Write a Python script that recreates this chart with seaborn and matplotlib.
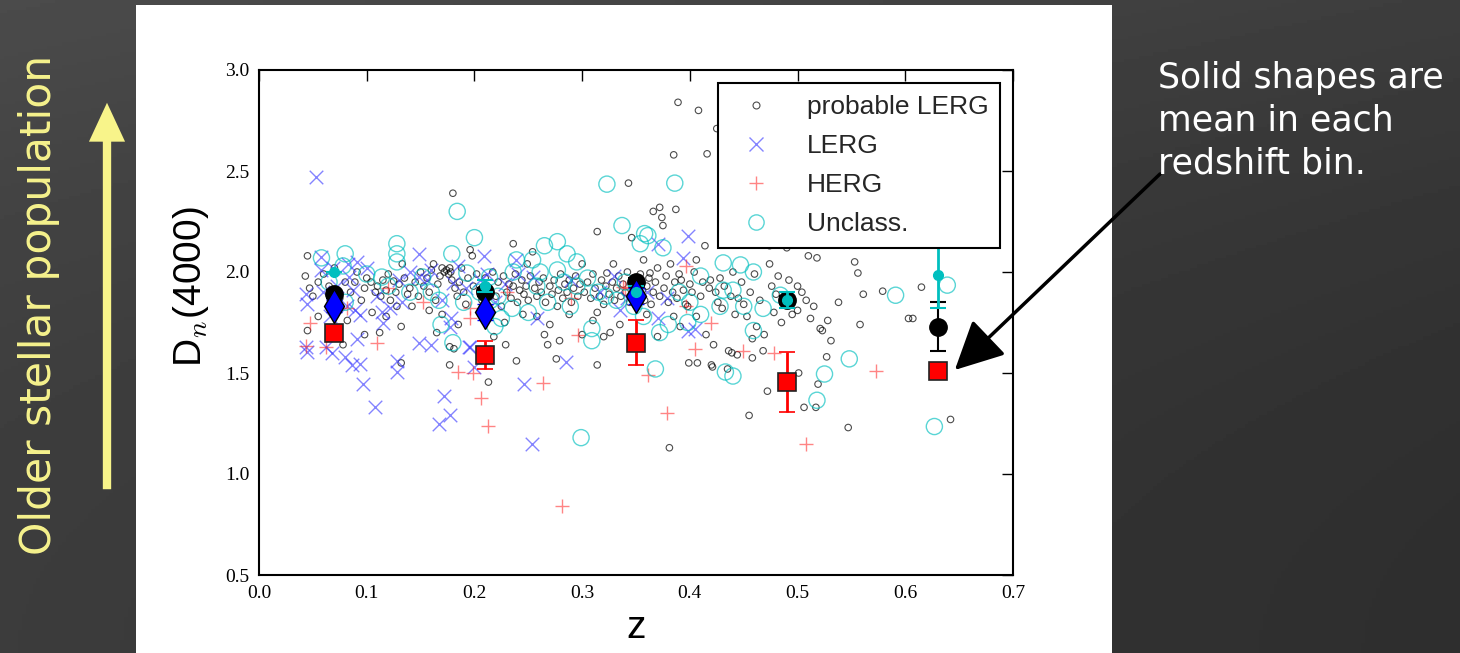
import numpy as np
import pandas as pd
import matplotlib
matplotlib.use("Agg")
import matplotlib.pyplot as plt
from matplotlib.lines import Line2D
import seaborn as sns

# ---------------- data ----------------
plerg_pts = [
    (0.045,2.08),(0.043,1.98),(0.047,1.92),(0.05,1.88),(0.055,1.95),(0.045,1.71),(0.06,1.99),(0.065,1.93),
    (0.07,2.02),(0.075,1.87),(0.08,1.95),(0.082,1.76),(0.085,1.90),(0.089,1.95),(0.091,2.00),(0.095,1.86),
    (0.098,1.69),(0.098,1.92),(0.10,1.97),(0.078,1.64),(0.055,1.78),
    (0.104,1.95),(0.108,1.90),(0.11,1.93),(0.113,1.88),(0.115,1.96),(0.118,1.91),(0.12,1.99),(0.122,1.86),
    (0.125,1.955),(0.127,1.90),(0.13,1.94),(0.132,1.73),(0.132,1.55),(0.133,2.04),(0.135,1.97),(0.138,1.89),
    (0.14,1.92),(0.142,1.83),(0.145,1.95),(0.148,1.88),(0.15,2.0),(0.105,1.80),(0.118,1.78),(0.128,1.83),(0.112,1.70),
    (0.153,1.93),(0.156,1.97),(0.158,1.90),(0.16,2.01),(0.162,2.04),(0.164,1.86),(0.166,1.94),(0.168,1.98),
    (0.17,2.02),(0.172,2.00),(0.174,2.01),(0.176,1.99),(0.177,2.02),(0.178,2.00),(0.179,1.96),(0.18,2.39),
    (0.177,1.63),(0.181,1.62),(0.177,1.54),(0.182,1.92),(0.184,1.88),(0.186,1.95),(0.188,2.02),(0.19,1.90),
    (0.192,1.84),(0.194,1.97),(0.196,2.11),(0.198,2.08),(0.199,1.93),(0.17,1.79),(0.185,1.74),(0.158,1.81),(0.165,1.70),
    (0.202,1.99),(0.205,1.91),(0.207,1.86),(0.21,1.97),(0.213,1.455),(0.214,1.92),(0.217,2.00),(0.218,1.68),
    (0.22,1.88),(0.222,1.95),(0.225,1.83),(0.227,1.98),(0.229,1.64),(0.23,1.90),(0.232,1.94),(0.234,1.87),
    (0.236,2.14),(0.236,1.93),(0.238,1.99),(0.239,1.56),(0.24,1.85),(0.242,1.91),(0.244,1.96),(0.246,1.89),
    (0.248,1.93),(0.249,2.04),(0.25,1.86),(0.212,1.78),(0.228,1.75),(0.245,1.79),
    (0.252,1.98),(0.254,2.10),(0.256,1.92),(0.258,1.88),(0.26,1.95),(0.262,1.90),(0.264,1.97),(0.265,1.69),
    (0.266,1.85),(0.268,1.64),(0.27,1.93),(0.272,1.89),(0.274,1.96),(0.276,1.57),(0.277,1.83),(0.278,1.91),
    (0.279,1.66),(0.28,1.99),(0.282,1.87),(0.284,1.94),(0.286,1.90),(0.288,1.96),(0.29,1.85),(0.292,1.92),
    (0.294,1.98),(0.296,1.88),(0.298,1.94),(0.30,1.69),(0.30,2.04),(0.258,1.78),(0.27,1.74),(0.288,1.79),
    (0.302,1.90),(0.305,1.95),(0.308,1.87),(0.31,1.99),(0.312,1.92),(0.314,2.20),(0.314,1.54),(0.314,1.80),
    (0.316,1.88),(0.318,1.96),(0.32,1.84),(0.322,1.93),(0.323,1.995),(0.325,1.89),(0.326,1.70),(0.328,1.95),
    (0.329,2.04),(0.33,1.86),(0.332,1.92),(0.334,1.98),(0.336,1.88),(0.338,1.94),(0.34,1.90),(0.342,2.00),
    (0.343,2.44),(0.344,1.85),(0.346,2.17),(0.346,1.93),(0.348,1.97),(0.35,1.89),(0.31,1.76),(0.335,1.74),(0.32,1.68),
    (0.352,1.95),(0.354,1.99),(0.356,1.91),(0.357,2.06),(0.358,1.86),(0.36,1.93),(0.362,1.97),(0.363,1.995),
    (0.364,1.84),(0.366,2.30),(0.366,1.90),(0.368,1.95),(0.37,1.68),(0.37,2.02),(0.372,2.32),(0.372,1.88),
    (0.374,2.27),(0.375,2.23),(0.376,1.92),(0.378,1.98),(0.38,1.85),(0.381,1.13),(0.382,2.04),(0.384,1.90),
    (0.385,2.58),(0.386,1.95),(0.387,2.31),(0.388,1.87),(0.389,2.84),(0.39,1.99),(0.391,1.73),(0.392,1.96),
    (0.394,1.91),(0.396,1.84),(0.398,1.83),(0.399,1.55),(0.40,1.94),(0.36,1.79),(0.385,1.78),
    (0.402,1.90),(0.404,2.00),(0.406,2.06),(0.406,1.78),(0.407,1.55),(0.408,2.80),(0.41,1.88),(0.412,1.95),
    (0.414,2.13),(0.415,1.69),(0.416,2.585),(0.418,1.92),(0.419,1.96),(0.42,1.54),(0.421,1.53),
    (0.422,1.64),(0.424,1.90),(0.425,2.71),(0.426,1.85),(0.428,1.97),(0.43,1.82),(0.432,1.93),(0.435,1.52),
    (0.436,1.61),(0.438,1.88),(0.439,1.60),(0.44,2.00),(0.442,1.79),(0.444,1.59),(0.445,1.87),(0.448,1.95),
    (0.45,1.84),(0.453,1.78),(0.455,1.29),(0.456,1.90),(0.458,1.67),(0.458,1.575),(0.46,1.99),(0.462,1.73),(0.465,1.86),
    (0.468,1.61),(0.469,1.69),(0.472,1.41),(0.474,2.13),(0.474,2.04),(0.476,1.93),(0.478,1.80),(0.48,1.89),
    (0.482,1.98),(0.485,1.75),(0.49,2.12),(0.492,1.96),(0.495,1.79),(0.50,1.81),(0.501,1.50),(0.504,1.90),
    (0.506,1.33),(0.508,1.86),(0.512,1.77),(0.515,1.83),(0.517,1.33),(0.518,2.07),(0.519,1.445),(0.521,1.72),
    (0.523,1.71),(0.527,1.58),(0.528,1.76),(0.531,1.66),(0.538,1.85),(0.547,1.23),(0.553,2.05),(0.556,1.995),
    (0.558,1.74),(0.561,1.89),(0.579,1.905),(0.603,1.77),(0.607,1.77),(0.615,1.925),(0.642,1.27),(0.50,1.93),(0.51,2.08),
]
lerg_pts = [
    (0.053,2.47),(0.058,2.075),(0.044,1.89),(0.045,1.84),(0.058,2.01),(0.069,2.02),(0.083,2.04),(0.091,2.05),
    (0.084,1.975),(0.072,1.93),(0.059,1.90),(0.087,1.91),(0.094,1.785),(0.066,1.78),(0.082,1.83),(0.089,1.81),
    (0.114,1.80),(0.115,1.75),(0.122,1.82),(0.133,1.85),(0.14,2.0),(0.149,2.09),(0.149,1.975),(0.156,1.96),
    (0.16,2.01),(0.177,1.73),(0.178,1.77),(0.18,1.945),(0.192,1.92),(0.196,1.63),(0.205,1.96),(0.209,2.08),
    (0.212,1.99),(0.219,1.85),(0.228,1.94),(0.239,2.06),(0.24,1.99),(0.254,1.975),(0.258,1.77),(0.29,1.96),
    (0.317,1.90),(0.33,1.98),(0.342,1.87),(0.335,1.81),(0.044,1.63),(0.045,1.605),(0.062,1.63),(0.068,1.60),
    (0.08,1.58),(0.086,1.54),(0.094,1.545),(0.097,1.445),(0.108,1.33),(0.128,1.56),(0.128,1.505),(0.149,1.65),
    (0.16,1.64),(0.172,1.385),(0.177,1.29),(0.167,1.25),(0.195,1.63),(0.20,1.53),(0.246,1.445),(0.253,1.15),
    (0.285,1.555),(0.091,1.67),(0.398,2.18),(0.37,2.14),(0.394,2.07),(0.379,1.87),(0.37,1.77),(0.398,1.71),
    (0.405,1.72),(0.36,1.90),(0.11,1.88),(0.13,1.96),(0.10,2.02),(0.17,1.86),(0.185,2.03),
]
herg_pts = [
    (0.044,1.635),(0.062,1.63),(0.11,1.65),(0.185,1.505),(0.199,1.50),(0.206,1.375),(0.213,1.24),(0.264,1.45),
    (0.281,0.84),(0.296,1.69),(0.361,1.49),(0.379,1.30),(0.405,1.62),(0.449,1.61),(0.478,1.60),(0.508,1.15),
    (0.573,1.51),(0.047,1.75),(0.082,1.82),(0.152,1.85),(0.196,1.82),(0.196,1.77),(0.338,1.925),(0.396,2.03),
    (0.396,1.83),(0.34,1.92),(0.42,1.75),(0.23,1.90),(0.12,1.92),(0.29,1.87),
]
unclass_pts = [
    (0.058,2.07),(0.08,2.09),(0.078,2.03),(0.08,1.85),(0.065,1.95),(0.10,1.99),(0.114,1.975),(0.128,2.14),
    (0.128,2.09),(0.128,2.05),(0.12,1.93),(0.14,1.90),(0.152,1.975),(0.16,1.90),(0.167,1.86),(0.169,1.74),
    (0.179,2.09),(0.184,2.30),(0.18,1.65),(0.193,1.995),(0.20,2.17),(0.205,1.90),(0.214,1.975),(0.225,1.77),
    (0.219,1.73),(0.222,1.88),(0.236,2.0),(0.239,2.06),(0.254,2.06),(0.265,2.13),(0.277,2.15),(0.286,2.09),
    (0.261,2.0),(0.258,1.93),(0.25,1.80),(0.268,1.85),(0.277,2.01),(0.283,1.95),(0.289,1.83),(0.295,1.93),
    (0.299,1.18),(0.305,1.97),(0.309,1.72),(0.309,1.66),(0.315,1.90),(0.323,2.435),(0.322,1.88),(0.332,1.86),
    (0.337,2.23),(0.34,1.95),(0.354,2.14),(0.358,2.19),(0.361,2.18),(0.375,2.12),(0.357,1.78),(0.368,1.52),
    (0.372,1.70),(0.38,1.74),(0.386,2.44),(0.39,1.90),(0.40,1.85),(0.398,1.75),(0.41,1.98),(0.428,1.83),
    (0.431,2.045),(0.431,1.91),(0.433,1.505),(0.44,1.485),(0.44,1.91),(0.447,2.035),(0.45,1.83),(0.459,2.0),
    (0.459,1.71),(0.468,1.82),(0.484,1.885),(0.518,1.365),(0.525,1.495),(0.548,1.57),(0.591,1.885),
    (0.627,1.235),(0.639,1.935),(0.295,2.05),(0.215,1.86),(0.19,1.85),(0.235,1.82),(0.348,1.83),(0.41,1.79),
]

# bin means and errors
bin_z = [0.07, 0.21, 0.35, 0.49, 0.63]
plerg_mean = [1.89, 1.90, 1.95, 1.86, 1.73]
plerg_err = [0.02, 0.02, 0.02, 0.02, 0.12]
lerg_bin_z = [0.07, 0.21, 0.35]
lerg_mean = [1.83, 1.80, 1.88]
lerg_err = [0.03, 0.04, 0.04]
herg_mean = [1.70, 1.59, 1.65, 1.455, 1.51]
herg_err = [0.03, 0.07, 0.11, 0.15, 0.0]
unclass_mean = [2.00, 1.93, 1.90, 1.86, 1.985]
unclass_err = [0.0, 0.03, 0.03, 0.04, 0.165]

legend_labels = ["probable LERG", "LERG", "HERG", "Unclass."]
x_ticks = [0.0, 0.1, 0.2, 0.3, 0.4, 0.5, 0.6, 0.7]
y_ticks = [0.5, 1.0, 1.5, 2.0, 2.5, 3.0]

def to_df(pts):
    return pd.DataFrame(pts, columns=["z", "d"])

df_pl, df_l, df_h, df_u = map(to_df, (plerg_pts, lerg_pts, herg_pts, unclass_pts))

# ---------------- figure ----------------
sns.set_theme(style="white")
plt.rcParams["font.family"] = ["DejaVu Sans"]
plt.rcParams["mathtext.fontset"] = "cm"

W, H = 1460, 653
fig = plt.figure(figsize=(W / 100, H / 100), dpi=100)

# dark slide background with a soft gradient
bg = fig.add_axes([0, 0, 1, 1], zorder=-10)
yy, xx = np.mgrid[0:1:200j, 0:1:400j]
shade = 0.235 - 0.055 * xx + 0.06 * yy ** 2
bg.imshow(shade, cmap="gray", vmin=0, vmax=1, aspect="auto", extent=[0, 1, 0, 1], origin="lower")
bg.set_axis_off()

# white panel
panel = fig.add_axes([136 / W, 0, (1112 - 136) / W, (H - 5) / H], zorder=-5)
panel.set_facecolor("white")
panel.set_xticks([]); panel.set_yticks([])
for s in panel.spines.values():
    s.set_visible(False)

ax = fig.add_axes([259 / W, 1 - 575 / H, (1013 - 259) / W, (575 - 70) / H])
ax.set_facecolor("white")

sns.scatterplot(data=df_pl, x="z", y="d", marker="o", s=22, facecolors="none",
                edgecolor="black", linewidth=0.8, alpha=0.7, ax=ax, zorder=2)
sns.scatterplot(data=df_l, x="z", y="d", marker="x", s=95, color="#3333ff",
                linewidth=1.0, alpha=0.6, ax=ax, zorder=2)
sns.scatterplot(data=df_h, x="z", y="d", marker="+", s=95, color="#ff2020",
                linewidth=1.0, alpha=0.55, ax=ax, zorder=2)
sns.scatterplot(data=df_u, x="z", y="d", marker="o", s=135, facecolors="none",
                edgecolor="#00bfbf", linewidth=1.0, alpha=0.65, ax=ax, zorder=2)

# bin means
ax.errorbar(bin_z, plerg_mean, yerr=plerg_err, fmt="o", ms=12.5, color="black",
            mec="black", ecolor="black", elinewidth=1.5, capsize=5.5, capthick=1.5, zorder=4)
ax.errorbar(bin_z, herg_mean, yerr=herg_err, fmt="s", ms=12.5, mfc="red", mec="#222222",
            mew=1.2, ecolor="red", elinewidth=2, capsize=5.5, capthick=2, zorder=4)
ax.errorbar(lerg_bin_z, lerg_mean, yerr=lerg_err, fmt="d", ms=17, mfc="blue", mec="black",
            mew=1.0, ecolor="blue", elinewidth=1.5, capsize=5.5, capthick=1.5, zorder=5)
ax.errorbar(bin_z, unclass_mean, yerr=unclass_err, fmt="o", ms=7, mfc="#00bfbf", mec="#00bfbf",
            ecolor="#00bfbf", elinewidth=2, capsize=5.5, capthick=1.5, zorder=5)

ax.set_xlim(0.0, 0.7)
ax.set_ylim(0.5, 3.0)
ax.set_xticks(x_ticks)
ax.set_yticks(y_ticks)
ax.set_xticklabels([f"{v:.1f}" for v in x_ticks])
ax.set_yticklabels([f"{v:.1f}" for v in y_ticks])
ax.tick_params(direction="in", length=8, width=1, top=True, right=True,
               labelsize=14, pad=7, colors="black")
for lbl in ax.get_xticklabels() + ax.get_yticklabels():
    lbl.set_family("Liberation Serif")
for s in ax.spines.values():
    s.set_visible(True)
    s.set_linewidth(1.5)
    s.set_color("black")

ax.set_xlabel("z", fontsize=28, family="Liberation Sans", labelpad=6, color="black")
ax.set_ylabel(r"D$_n$(4000)", fontsize=28, family="Liberation Sans", labelpad=10,
              color="black", y=0.57)

handles = [
    Line2D([], [], ls="none", marker="o", ms=5, mfc="none", mec="black", mew=0.8, alpha=0.7),
    Line2D([], [], ls="none", marker="x", ms=10, color="#3333ff", mew=1.0, alpha=0.6),
    Line2D([], [], ls="none", marker="+", ms=10, color="#ff2020", mew=1.0, alpha=0.55),
    Line2D([], [], ls="none", marker="o", ms=11, mfc="none", mec="#00bfbf", mew=1.0, alpha=0.65),
]
leg = ax.legend(handles, legend_labels, loc="upper right", bbox_to_anchor=(0.983, 0.974),
                borderaxespad=0, prop={"family": "Liberation Sans", "size": 19},
                frameon=True, fancybox=False, framealpha=1, edgecolor="black",
                borderpad=0.45, handlelength=2.0, handletextpad=0.9, labelspacing=0.57,
                numpoints=1)
leg.get_frame().set_linewidth(1.5)
leg.set_zorder(10)

# slide annotations
fig.text(39 / W, 1 - 305 / H, "Older stellar population", rotation=90, color="#f6f28c",
         fontsize=30.5, ha="center", va="center", family="DejaVu Sans")
ax.annotate("", xy=(107, H - 100), xycoords="figure pixels",
            xytext=(107, H - 492), textcoords="figure pixels",
            arrowprops=dict(arrowstyle="simple,head_length=2.8,head_width=2.6,tail_width=0.6",
                            mutation_scale=10, color="#f8f48a", lw=0),
            annotation_clip=False)

fig.text(1158 / W, 1 - 61 / H, "Solid shapes are\nmean in each\nredshift bin.",
         color="white", fontsize=25, ha="left", va="top", linespacing=1.32,
         family="DejaVu Sans")
ax.annotate("", xy=(0.646, 1.515), xycoords="data",
            xytext=(1160, H - 174), textcoords="figure pixels",
            arrowprops=dict(arrowstyle="-|>,head_length=1.5,head_width=0.75",
                            mutation_scale=20, color="black", lw=2.5,
                            shrinkA=0, shrinkB=0),
            annotation_clip=False, zorder=20)

fig.savefig("out.png", dpi=100)
